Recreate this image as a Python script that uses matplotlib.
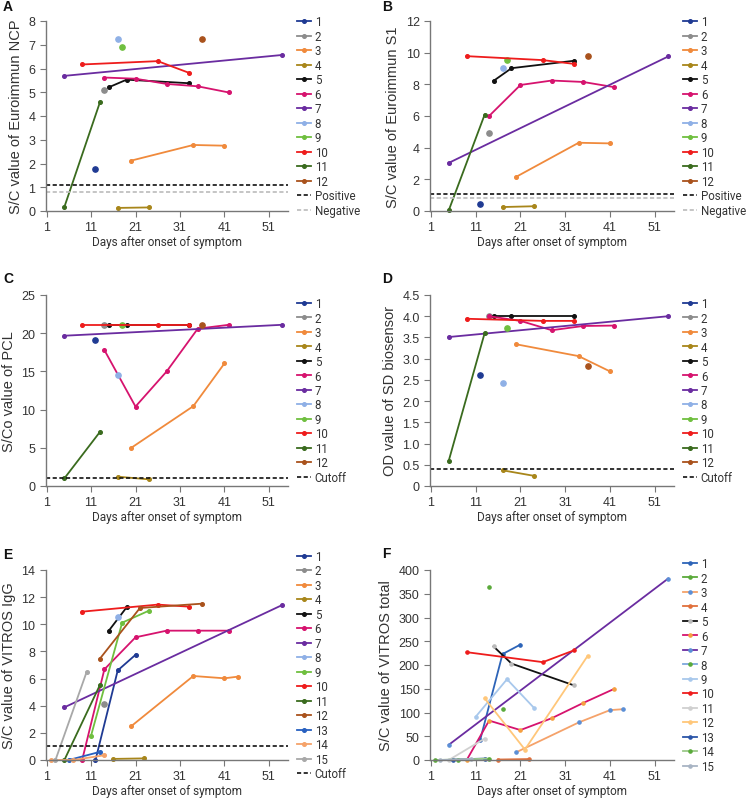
import numpy as np
import matplotlib.pyplot as plt

plt.rcParams['font.family'] = ['Liberation Sans', 'DejaVu Sans']

labels12 = [str(i) for i in range(1, 13)]
labels15 = [str(i) for i in range(1, 16)]

colors = ['#1f3a93', '#8c8c8c', '#f08a3c', '#a8861a', '#111111', '#d6136e',
          '#6a2ca0', '#8fb0e6', '#6fbf3f', '#ee1c1c', '#3a6b1e', '#a9521c',
          '#2860c0', '#f5a36a', '#a8a8a8']

xticks = [1, 11, 21, 31, 41, 51]

# panel A - Euroimmun NCP
a_days = [[12], [14], [20, 34, 41], [17, 24], [15, 19, 33], [14, 21, 28, 35, 42],
          [5, 54], [17], [18], [9, 26, 33], [5, 13], [36]]
a_vals = [[1.77], [5.1], [2.12, 2.78, 2.75], [0.13, 0.15], [5.21, 5.53, 5.38],
          [5.62, 5.57, 5.35, 5.25, 4.99], [5.69, 6.57], [7.24], [6.89],
          [6.17, 6.31, 5.82], [0.17, 4.58], [7.23]]

# panel B - Euroimmun S1
b_days = a_days
b_vals = [[0.47], [4.9], [2.15, 4.31, 4.27], [0.25, 0.3], [8.22, 9.02, 9.49],
          [6.0, 7.96, 8.24, 8.15, 7.82], [3.04, 9.76], [9.04], [9.55],
          [9.78, 9.53, 9.29], [0.05, 6.08], [9.78]]

# panel C - PCL
c_days = a_days
c_vals = [[19.06], [21.07], [4.98, 10.45, 16.04], [1.22, 0.87], [21.07, 21.07, 21.07],
          [17.79, 10.4, 14.99, 20.59, 21.1], [19.67, 21.1], [14.51], [21.07],
          [21.07, 21.07, 21.07], [1.0, 7.08], [21.07]]

# panel D - SD biosensor
d_days = a_days
d_vals = [[2.62], [4.0], [3.34, 3.06, 2.7], [0.37, 0.24], [4.0, 4.0, 4.0],
          [4.0, 3.89, 3.67, 3.77, 3.78], [3.51, 4.0], [2.42], [3.72],
          [3.94, 3.89, 3.89], [0.6, 3.6], [2.83]]

# panel E - VITROS IgG
e_days = [[12, 17, 21], [14], [20, 34, 41, 44], [16, 23], [15, 19], [9, 14, 21, 28, 35, 42],
          [5, 54], [17], [11, 18, 24], [9, 26, 33], [5, 13], [13, 22, 36], [6, 13],
          [2, 7, 14], [3, 10]]
e_vals = [[0.0, 6.6, 7.75], [4.13], [2.48, 6.19, 6.02, 6.14], [0.08, 0.12], [9.53, 11.25],
          [0.0, 6.68, 9.04, 9.53, 9.53, 9.53], [3.88, 11.42], [10.54], [1.79, 10.12, 11.0],
          [10.93, 11.45, 11.3], [0.0, 5.53], [7.47, 11.2, 11.52], [0.0, 0.6],
          [0.0, 0.0, 0.35], [0.0, 6.48]]

# panel F - VITROS total
f_days = [[12, 17, 21], [14], [20, 34, 41, 44], [16, 23], [15, 19, 33], [9, 14, 21, 28, 35, 42],
          [5, 54], [17], [11, 18, 24], [9, 26, 33], [5, 13], [13, 22, 36], [6, 13],
          [2, 7, 14], [3, 10]]
f_vals = [[42, 223, 243], [363.5], [16, 79, 105, 107], [1, 2], [239, 203, 157],
          [0, 83, 63, 88, 120, 150], [32, 382], [108], [91, 170, 110], [227, 206, 231],
          [0, 45], [130, 22, 219], [1, 3], [0, 1, 3], [0, 2]]
f_colors = ['#2d64b8', '#5aaa3a', '#f5a26a', '#e0703c', '#111111', '#d6136e',
            '#6a2ca0', '#7da7dc', '#a8c8ec', '#ee1c1c', '#d0d0d0', '#ffc77a',
            '#2b55a8', '#9cc98a', '#a8b4c4']
f_mcolors = ['#2d64b8', '#5aaa3a', '#5b8fd6', '#e0703c', '#bbbbbb', '#f5a040',
             '#5b8fd6', '#5aaa3a', '#a8c8ec', '#ee1c1c', '#d0d0d0', '#ffc77a',
             '#2b55a8', '#5aaa3a', '#a8b4c4']

fig = plt.figure(figsize=(7.48, 8.03), dpi=100)
W, H = 748.0, 803.0
cols_x = [45.7, 430.0]
widths = [242.3, 244.0]
rows = [(22, 212), (296, 487), (571, 761)]
legprops = {'family': ['Roboto', 'DejaVu Sans'], 'size': 8.3}


def make_ax(r, c):
    top, bot = rows[r]
    return fig.add_axes([cols_x[c] / W, 1 - bot / H, widths[c] / W, (bot - top) / H])


def style(ax, ylim, yticks, ylabel, yfmt=None):
    ax.set_xlim(0.8, 55.3)
    ax.set_ylim(*ylim)
    ax.set_xticks(xticks)
    ax.set_yticks(yticks)
    if yfmt is not None:
        ax.set_yticklabels(yfmt)
    for s in ['top', 'right']:
        ax.spines[s].set_visible(False)
    for s in ['left', 'bottom']:
        ax.spines[s].set_color('#777777')
        ax.spines[s].set_linewidth(1.0)
    ax.tick_params(direction='out', length=4, color='#777777', labelcolor='#333333',
                   labelsize=9)
    ax.set_ylabel(ylabel, fontsize=10.5, color='#333333', labelpad=4)
    ax.set_xlabel('Days after onset of symptom', fontsize=8.5, color='#333333',
                  family=['Roboto', 'DejaVu Sans'], labelpad=1)


def add_legend(ax):
    return ax.legend(loc='center left', bbox_to_anchor=(1.02, 0.5), frameon=False,
                     handlelength=1.2, handletextpad=0.3, labelspacing=0.13,
                     borderaxespad=0, prop=legprops, labelcolor='#333333')


def draw(ax, days, vals, labels, refs):
    for d, v, lab, c in zip(days, vals, labels, colors):
        ms = 3.8 if len(d) == 1 else 2.6
        ax.plot(d, v, '-o', color=c, ms=ms, lw=1.3, label=lab, clip_on=False)
    for y, c, lab in refs:
        ax.axhline(y, color=c, ls=(0, (2.5, 1.5)), lw=1.2, label=lab)
    leg = add_legend(ax)
    for h in leg.legend_handles:
        h.set_markersize(2.6)
    return leg


axA = make_ax(0, 0)
draw(axA, a_days, a_vals, labels12, [(1.1, '#111111', 'Positive'), (0.8, '#bbbbbb', 'Negative')])
style(axA, (0, 8), range(0, 9), 'S/C value of Euroimmun NCP')

axB = make_ax(0, 1)
draw(axB, b_days, b_vals, labels12, [(1.1, '#111111', 'Positive'), (0.8, '#bbbbbb', 'Negative')])
style(axB, (0, 12), range(0, 13, 2), 'S/C value of Euroimmun S1')

axC = make_ax(1, 0)
draw(axC, c_days, c_vals, labels12, [(1.0, '#111111', 'Cutoff')])
style(axC, (0, 25), range(0, 26, 5), 'S/Co value of PCL')

axD = make_ax(1, 1)
draw(axD, d_days, d_vals, labels12, [(0.4, '#111111', 'Cutoff')])
dt = np.arange(0, 4.51, 0.5)
style(axD, (0, 4.5), dt, 'OD value of SD biosensor',
      ['0'] + ['%.1f' % t for t in dt[1:]])

axE = make_ax(2, 0)
draw(axE, e_days, e_vals, labels15, [(1.0, '#111111', 'Cutoff')])
style(axE, (0, 14), range(0, 15, 2), 'S/C value of VITROS IgG')

axF = make_ax(2, 1)
for d, v, lab, c, mc in zip(f_days, f_vals, labels15, f_colors, f_mcolors):
    axF.plot(d, v, '-', marker='o', color=c, mfc=mc, mec=mc, ms=2.3,
             lw=1.3, label=lab, clip_on=False)
add_legend(axF)
style(axF, (0, 400), range(0, 401, 50), 'S/C value of VITROS total')

letters = [('A', 3, 11), ('B', 382, 11), ('C', 3, 283), ('D', 382, 283),
           ('E', 3, 559), ('F', 382, 558)]
for t, x, y in letters:
    fig.text(x / W, 1 - y / H, t, fontsize=10, fontweight='bold', va='baseline',
             ha='left', color='#111111')

fig.savefig('out.png', dpi=100)
